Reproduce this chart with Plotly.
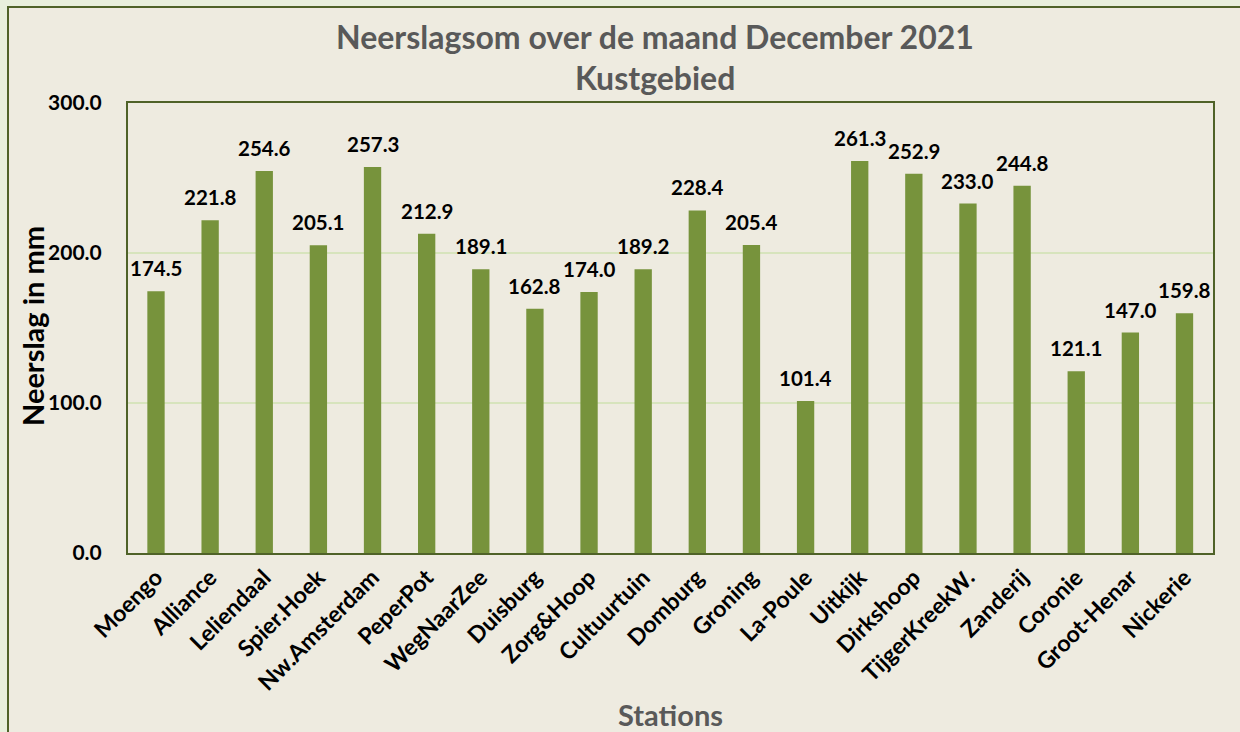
import plotly.graph_objects as go

stations = ["Moengo", "Alliance", "Leliendaal", "Spier.Hoek", "Nw.Amsterdam", "PeperPot",
            "WegNaarZee", "Duisburg", "Zorg&Hoop", "Cultuurtuin", "Domburg", "Groning",
            "La-Poule", "Uitkijk", "Dirkshoop", "TijgerKreekW.", "Zanderij", "Coronie",
            "Groot-Henar", "Nickerie"]
neerslag = [174.5, 221.8, 254.6, 205.1, 257.3, 212.9, 189.1, 162.8, 174.0, 189.2,
            228.4, 205.4, 101.4, 261.3, 252.9, 233.0, 244.8, 121.1, 147.0, 159.8]
y_ticks = [0, 100, 200, 300]

FONT = "Lato"
BAR = "#77933c"
DARK = "#4f6228"

# plot area in pixels: x 128..1213, y 103..553
L, R, T, B = 128, 27, 103, 179
W, H = 1240 - L - R, 732 - T - B

def px_x(p):
    return (p - L) / W

def px_y(p):
    return (732 - B - p) / H

fig = go.Figure(go.Bar(
    x=stations, y=neerslag, marker_color=BAR, marker_line_width=0,
))

for s, v in zip(stations, neerslag):
    fig.add_annotation(x=s, y=v, text=f"<b>{v:.1f}</b>", showarrow=False,
                       yanchor="bottom", yshift=9,
                       font=dict(family=FONT, size=20.5, color="black"))

# outer chart frame
fig.add_shape(type="rect", xref="paper", yref="paper", layer="below",
              x0=px_x(8), x1=px_x(1250), y0=px_y(745), y1=px_y(7),
              fillcolor="#eeebe0", line=dict(color=DARK, width=2))

fig.add_annotation(text="<b>Neerslagsom over de maand December 2021</b>", xref="paper", yref="paper",
                   x=px_x(655), y=px_y(37), showarrow=False, xanchor="center", yanchor="middle",
                   font=dict(family=FONT, size=32, color="#595959"))
fig.add_annotation(text="<b>Kustgebied</b>", xref="paper", yref="paper",
                   x=px_x(655), y=px_y(78), showarrow=False, xanchor="center", yanchor="middle",
                   font=dict(family=FONT, size=32, color="#595959"))
fig.add_annotation(text="<b>Stations</b>", xref="paper", yref="paper",
                   x=0.5, y=px_y(714), showarrow=False, xanchor="center", yanchor="middle",
                   font=dict(family=FONT, size=29, color="#595959"))
fig.add_annotation(text="<b>Neerslag in mm</b>", xref="paper", yref="paper",
                   x=px_x(32), y=px_y(326), showarrow=False, textangle=-90,
                   xanchor="center", yanchor="middle",
                   font=dict(family=FONT, size=29, color="black"))

fig.update_layout(
    width=1240, height=732,
    margin=dict(l=L, r=R, t=T, b=B, autoexpand=False),
    paper_bgcolor="#e8efdc",
    plot_bgcolor="white",
    bargap=0.68,
    showlegend=False,
    xaxis=dict(tickangle=-45, automargin=False,
               tickfont=dict(family=FONT, size=23, color="black", weight="bold"),
               showline=True, linecolor=DARK, linewidth=2, mirror=True, ticks=""),
    yaxis=dict(range=[0, 300], tickvals=y_ticks, tickformat=".1f", automargin=False,
               tickfont=dict(family=FONT, size=21, color="black", weight="bold"),
               ticklabelstandoff=20,
               showline=True, linecolor=DARK, linewidth=2, mirror=True,
               gridcolor="#d7e4bd", gridwidth=1.5, zeroline=False),
)

fig.write_html("out.html", config={"displayModeBar": False},
               post_script="document.body.style.margin='0';")
